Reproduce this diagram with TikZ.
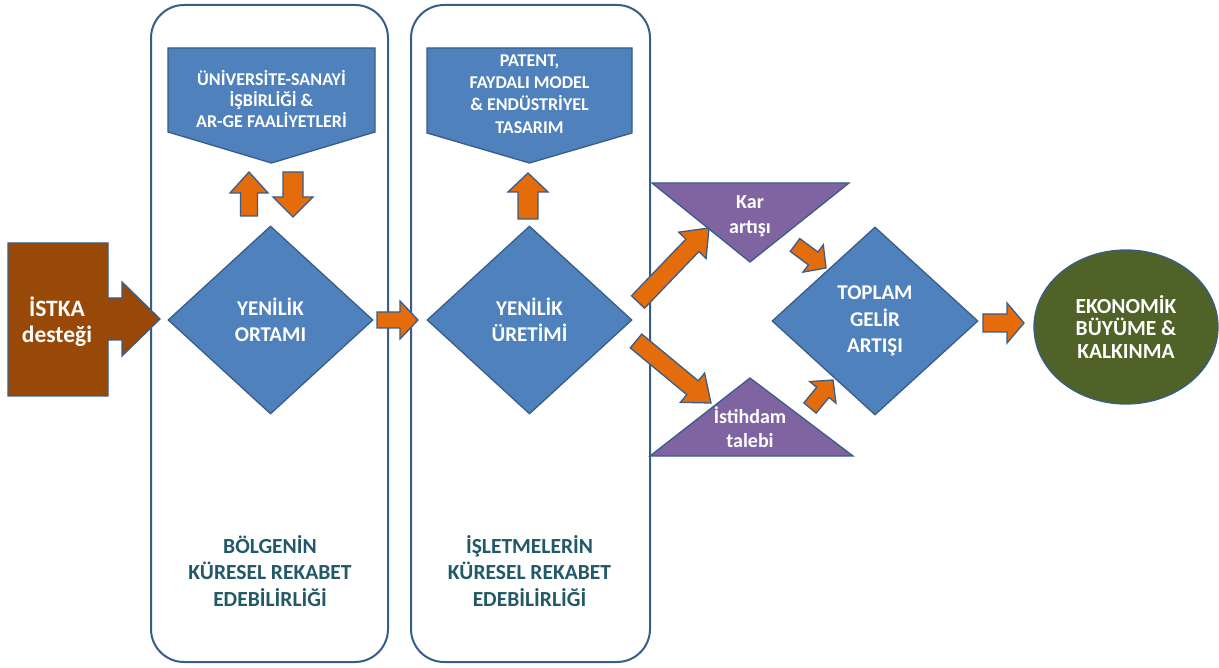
\documentclass[tikz,border=0pt]{standalone}
\usepackage{fontspec}
\setmainfont{Carlito}
\usetikzlibrary{calc,shapes.geometric}
\definecolor{oblue}{HTML}{4F81BD}
\definecolor{oline}{HTML}{385D8A}
\definecolor{oorange}{HTML}{E46C0A}
\definecolor{opurple}{HTML}{8064A2}
\definecolor{ogreen}{HTML}{4F6228}
\definecolor{obrown}{HTML}{984807}
\definecolor{oteal}{HTML}{215968}
\tikzset{
  panel/.style={draw=oline, line width=2pt, rounded corners=33pt, fill=white, inner sep=0pt},
  bluefill/.style={fill=oblue, draw=oline, line width=1.3pt, line join=miter},
  purplefill/.style={fill=opurple, draw=oline, line width=1.3pt, line join=miter},
  brownfill/.style={fill=obrown, draw=oline, line width=1.3pt, line join=miter},
  fatarrow/.style={fill=oorange, draw=oline, line width=1.3pt, line join=miter},
  wtext/.style={text=white, align=center, inner sep=0pt},
  btext/.style={text=oteal, align=center, inner sep=0pt, font=\bfseries\fontsize{21.5}{26.5}\selectfont},
}
\newcommand\blockarrow[5]{%
  \coordinate (ba-h) at ($(#2)!#5!(#1)$);
  \draw[fatarrow] ($(#1)!#3!90:(#2)$) -- ($(ba-h)!#3!90:(#2)$) -- ($(ba-h)!#4!90:(#2)$) -- (#2)
    -- ($(ba-h)!#4!-90:(#2)$) -- ($(ba-h)!#3!-90:(#2)$) -- ($(#1)!#3!-90:(#2)$) -- cycle;
}
\begin{document}
\begin{tikzpicture}[x=1pt,y=-1pt]
\useasboundingbox (0,0) rectangle (1219,668);
% panels
\node[panel, minimum width=237pt, minimum height=657pt] (panelA) at (269.5,333.5) {};
\node[panel, minimum width=239pt, minimum height=657pt] (panelB) at (530.5,333.5) {};
% ISTKA
\draw[brownfill] (8,243) -- (108,243) -- (108,298) -- (122,298) -- (122,282) -- (160,319)
  -- (122,356) -- (122,340) -- (108,340) -- (108,396) -- (8,396) -- cycle;
\node[wtext, font=\bfseries\fontsize{23.5}{26}\selectfont] (istka) at (57,322) {İSTKA\\desteği};
% pentagons
\draw[bluefill] (168,48) -- (375,48) -- (375,132) -- (271.5,163) -- (168,132) -- cycle;
\node[wtext, font=\bfseries\fontsize{18}{21}\selectfont] (usi) at (271.5,99) {ÜNİVERSİTE-SANAYİ\\İŞBİRLİĞİ \&\\AR-GE FAALİYETLERİ};
\draw[bluefill] (427,48) -- (632,48) -- (632,133) -- (529.5,163) -- (427,133) -- cycle;
\node[wtext, font=\bfseries\fontsize{18}{22.3}\selectfont] (pat) at (529.5,94) {PATENT,\\FAYDALI MODEL\\\& ENDÜSTRİYEL\\TASARIM};
% diamonds
\node[diamond, bluefill, minimum width=205pt, minimum height=188pt, wtext, font=\bfseries\fontsize{21}{26}\selectfont] (d1) at (270.5,320) {YENİLİK\\ORTAMI};
\node[diamond, bluefill, minimum width=205pt, minimum height=188pt, wtext, font=\bfseries\fontsize{21}{26}\selectfont] (d2) at (529.5,320) {YENİLİK\\ÜRETİMİ};
\node[diamond, bluefill, minimum width=206pt, minimum height=188pt, wtext, font=\bfseries\fontsize{21}{26.5}\selectfont] (tg) at (875,321) {TOPLAM\\GELİR\\ARTIŞI};
% triangles
\draw[purplefill] (652,183) -- (849,183) -- (750,262) -- cycle;
\node[wtext, font=\bfseries\fontsize{20}{24.5}\selectfont] (kar) at (750,216) {Kar\\artışı};
\draw[purplefill] (650,456) -- (853,456) -- (750,378) -- cycle;
\node[wtext, font=\bfseries\fontsize{20}{23.5}\selectfont] (ist) at (750,427) {İstihdam\\talebi};
% circle
\node[ellipse, fill=ogreen, draw=oline, line width=1.3pt, minimum width=184pt, minimum height=154pt, wtext, font=\bfseries\fontsize{21.5}{22.5}\selectfont] (eco) at (1126,327) {EKONOMİK\\BÜYÜME \&\\KALKINMA};
% bottom texts
\node[btext] (bolge) at (270,571) {BÖLGENİN\\KÜRESEL REKABET\\EDEBİLİRLİĞİ};
\node[btext] (islet) at (529.5,571) {İŞLETMELERİN\\KÜRESEL REKABET\\EDEBİLİRLİĞİ};
% arrow end points
\coordinate (a1s) at (249,216); \coordinate (a1t) at (249,172);
\coordinate (a2s) at (293,172); \coordinate (a2t) at (293,217);
\coordinate (a3s) at (528,219); \coordinate (a3t) at (528,173);
\coordinate (a4s) at (377,320); \coordinate (a4t) at (418,320);
\coordinate (a5s) at (638,302); \coordinate (a5t) at (709,228);
\coordinate (a6s) at (636,341); \coordinate (a6t) at (711,403);
\coordinate (a7s) at (795,245); \coordinate (a7t) at (826,268);
\coordinate (a8s) at (810,408); \coordinate (a8t) at (833,380);
\coordinate (a9s) at (983,323); \coordinate (a9t) at (1024,323);
\blockarrow{a1s}{a1t}{8.5pt}{19pt}{21pt}
\blockarrow{a2s}{a2t}{10pt}{20pt}{20pt}
\blockarrow{a3s}{a3t}{10pt}{20pt}{19pt}
\blockarrow{a4s}{a4t}{8pt}{19pt}{18pt}
\blockarrow{a5s}{a5t}{9pt}{19pt}{24pt}
\blockarrow{a6s}{a6t}{9pt}{19pt}{24pt}
\blockarrow{a7s}{a7t}{8pt}{17pt}{16pt}
\blockarrow{a8s}{a8t}{8pt}{17pt}{16pt}
\blockarrow{a9s}{a9t}{9pt}{20pt}{17pt}
\end{tikzpicture}
\end{document}
